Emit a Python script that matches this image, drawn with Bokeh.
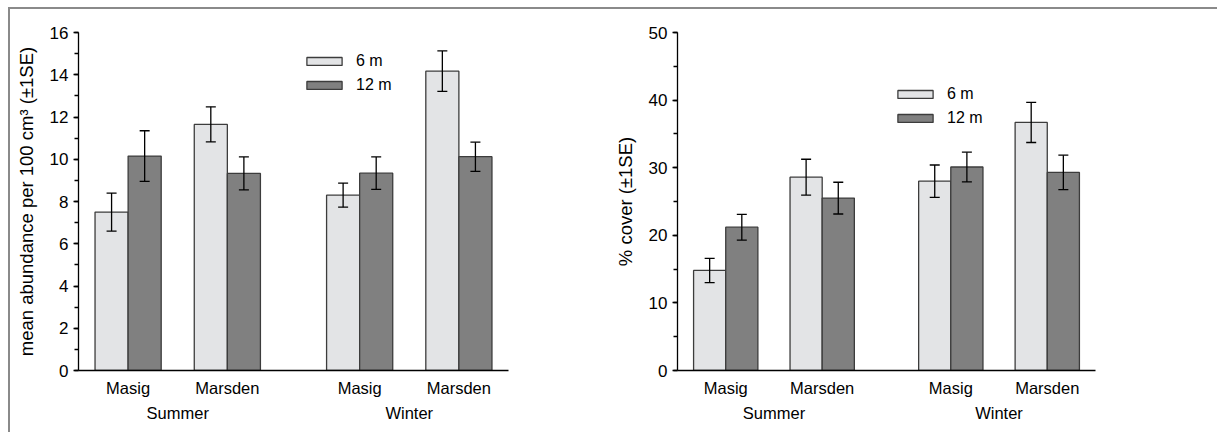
from bokeh.plotting import figure
from bokeh.layouts import row
from bokeh.models import (ColumnDataSource, Whisker, TeeHead, Legend, LegendItem,
                          FixedTicker, SingleIntervalTicker, LinearAxis, Range1d)
from bokeh.embed import file_html
from bokeh.resources import INLINE

# ---------------- data ----------------
seasons = ["Summer", "Winter"]
sites = ["Masig", "Marsden"]
depths = ["6 m", "12 m"]
# order: Summer-Masig, Summer-Marsden, Winter-Masig, Winter-Marsden
abund_6 = [7.50, 11.65, 8.30, 14.17]
abund_6_se = [0.90, 0.83, 0.57, 0.96]
abund_12 = [10.15, 9.33, 9.34, 10.12]
abund_12_se = [1.20, 0.78, 0.77, 0.69]
cover_6 = [14.8, 28.6, 28.0, 36.7]
cover_6_se = [1.8, 2.65, 2.4, 2.97]
cover_12 = [21.2, 25.5, 30.1, 29.3]
cover_12_se = [1.9, 2.35, 2.2, 2.55]

# ---------------- layout helpers ----------------
BAR_W = 1.0
SITE_STEP = 3.0
SEASON_STEP = 7.0
FIRST = 1.5
X_END = 13.0

centers = []
for si, _s in enumerate(seasons):
    for ti, _t in enumerate(sites):
        centers.append(FIRST + SITE_STEP * ti + SEASON_STEP * si)
site_labels = [t for _s in seasons for t in sites]
season_centers = [FIRST + SITE_STEP * (len(sites) - 1) / 2 + SEASON_STEP * si
                  for si in range(len(seasons))]

FONT = "Liberation Sans"
LIGHT = "#e3e4e6"
DARK = "#808080"
EDGE = "#3c3c3c"
FRAME = "#8a8a8a"


def panel(v6, s6, v12, s12, ymax, major, ylabel, width, height, borders, leg_loc):
    bl, br, bt, bb = borders
    p = figure(width=width, height=height, output_backend="svg", toolbar_location=None,
               x_range=Range1d(0, X_END), y_range=Range1d(0, ymax),
               min_border_left=bl, min_border_right=br, min_border_top=bt,
               min_border_bottom=bb, x_axis_location=None, y_axis_location=None)
    p.grid.visible = False
    p.outline_line_color = None
    p.background_fill_color = "white"
    p.border_fill_color = "white"

    x6 = [c - BAR_W / 2 for c in centers]
    x12 = [c + BAR_W / 2 for c in centers]
    src6 = ColumnDataSource(dict(x=x6, top=v6, lo=[a - b for a, b in zip(v6, s6)],
                                 hi=[a + b for a, b in zip(v6, s6)]))
    src12 = ColumnDataSource(dict(x=x12, top=v12, lo=[a - b for a, b in zip(v12, s12)],
                                  hi=[a + b for a, b in zip(v12, s12)]))
    r6 = p.vbar(x="x", top="top", width=BAR_W, source=src6, fill_color=LIGHT,
                line_color=EDGE, line_width=1.3)
    r12 = p.vbar(x="x", top="top", width=BAR_W, source=src12, fill_color=DARK,
                 line_color=EDGE, line_width=1.3)
    for src in (src6, src12):
        w = Whisker(base="x", upper="hi", lower="lo", source=src, line_color="black",
                    line_width=1.3, level="overlay",
                    upper_head=TeeHead(size=10, line_color="black", line_width=1.3),
                    lower_head=TeeHead(size=10, line_color="black", line_width=1.3))
        p.add_layout(w)

    # y axis
    yax = LinearAxis(ticker=SingleIntervalTicker(interval=major, num_minor_ticks=2),
                     axis_label=ylabel)
    yax.axis_line_color = "black"
    yax.axis_line_width = 1.3
    yax.major_tick_in = 0
    yax.major_tick_out = 5
    yax.minor_tick_in = 0
    yax.minor_tick_out = 4
    yax.major_tick_line_width = 1.3
    yax.minor_tick_line_width = 1.3
    yax.major_label_text_font = FONT
    yax.major_label_text_font_size = "17px"
    yax.major_label_text_color = "black"
    yax.major_label_standoff = 5
    yax.axis_label_text_font = FONT
    yax.axis_label_text_font_size = "18.5px"
    yax.axis_label_text_font_style = "normal"
    yax.axis_label_text_color = "black"
    yax.axis_label_standoff = 10
    p.add_layout(yax, "left")

    # site axis
    xax = LinearAxis(ticker=FixedTicker(ticks=centers),
                     major_label_overrides={c: l for c, l in zip(centers, site_labels)})
    xax.axis_line_color = "black"
    xax.axis_line_width = 1.5
    xax.major_tick_line_color = None
    xax.minor_tick_line_color = None
    xax.major_tick_in = 0
    xax.major_tick_out = 0
    xax.major_label_standoff = 8
    xax.major_label_text_font = FONT
    xax.major_label_text_font_size = "16.5px"
    xax.major_label_text_color = "black"
    p.add_layout(xax, "below")

    # season axis
    sax = LinearAxis(ticker=FixedTicker(ticks=season_centers),
                     major_label_overrides={c: l for c, l in zip(season_centers, seasons)})
    sax.axis_line_color = None
    sax.major_tick_line_color = None
    sax.minor_tick_line_color = None
    sax.major_tick_in = 0
    sax.major_tick_out = 0
    sax.major_label_standoff = 4
    sax.major_label_text_font = FONT
    sax.major_label_text_font_size = "16.5px"
    sax.major_label_text_color = "black"
    p.add_layout(sax, "below")

    leg = Legend(items=[LegendItem(label=depths[0], renderers=[r6]),
                        LegendItem(label=depths[1], renderers=[r12])],
                 location=leg_loc, padding=0, margin=0, spacing=6,
                 glyph_width=44, glyph_height=10, label_height=18,
                 label_standoff=10, border_line_color=None,
                 background_fill_alpha=0, label_text_font=FONT,
                 label_text_font_size="16px", label_text_color="black")
    p.add_layout(leg, "center")
    return p


p1 = panel(abund_6, abund_6_se, abund_12, abund_12_se, 16, 2,
           "mean abundance per 100 cm\u00b3 (\u00b11SE)", 590, 423, (68, 92, 17, 62),
           (224, 276))
p2 = panel(cover_6, cover_6_se, cover_12, cover_12_se, 50, 10,
           "% cover (\u00b11SE)", 617, 423, (77, 122, 23, 56), (216, 243))

layout = row(p1, p2, styles={"border-top": "2px solid " + FRAME,
                             "border-left": "2px solid " + FRAME,
                             "margin-top": "7px", "margin-left": "8px"})
open("out.html", "w").write(file_html(layout, INLINE))
